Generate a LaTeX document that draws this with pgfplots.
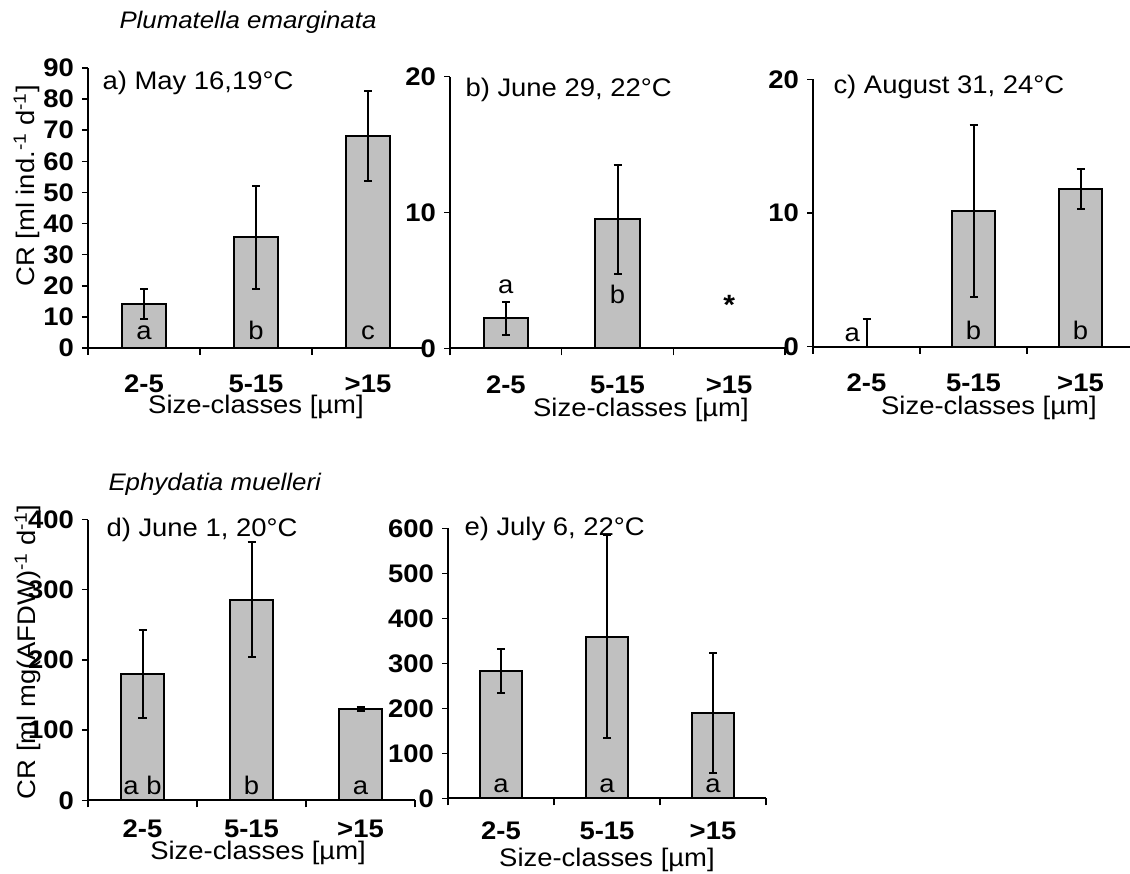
\documentclass[border=0pt]{standalone}
\usepackage{fontspec}
\setmainfont{Liberation Sans}[FakeStretch=1.08]
\usepackage{pgfplots}
\pgfplotsset{compat=1.18}

\definecolor{barfill}{RGB}{192,192,192}

\newcommand{\lblfont}{\fontsize{25.5}{30}\selectfont}
\newcommand{\spfont}{\fontsize{24}{28}\selectfont\itshape}
\newcommand{\tickfont}{\fontsize{25.5}{30}\selectfont\bfseries}

\tikzset{letter/.style={font=\lblfont, anchor=base}}

\pgfplotsset{
  sizepanel/.style={
    scale only axis,
    anchor=south west,
    xmin=0, xmax=3, ymin=0,
    axis x line*=bottom,
    axis y line*=left,
    axis line style={-, line width=1.8bp, black},
    tick align=outside,
    major tick length=6bp,
    minor tick length=7bp,
    tick style={line width=1.5bp, black},
    xtick={0.5,1.5,2.5},
    xticklabels={2-5,5-15,>15},
    minor xtick={0,1,2,3},
    major x tick style={draw=none},
    xticklabel style={font=\tickfont, anchor=base},
    yticklabel style={font=\tickfont, anchor=east, inner sep=0pt, xshift=-8bp},
    /pgf/number format/assume math mode=true,
    xlabel={Size-classes [µm]},
    xlabel style={font=\lblfont, anchor=base},
    clip=false,
    ybar, bar width=0.4,
  },
  barseries/.style={
    fill=barfill, draw=black, line width=2bp,
    error bars/.cd, y dir=both, y explicit,
    error bar style={line width=2bp, black},
    error mark options={rotate=90, mark size=4bp, line width=2bp, black},
  },
}

\begin{document}
\begin{tikzpicture}
\useasboundingbox (0,0) rectangle (1130bp,874bp);

% species headings and y labels
\node[font=\spfont, anchor=base west] at (116bp,845bp) {Plumatella emarginata};
\node[font=\spfont, anchor=base west] at (105bp,383bp) {Ephydatia muelleri};
\node[font=\lblfont, rotate=90] at (27bp,688bp) {CR [ml ind.\textsuperscript{-1} d\textsuperscript{-1}]};
\node[font=\lblfont, rotate=90] at (28bp,222bp) {CR [ml mg(AFDW)\textsuperscript{-1} d\textsuperscript{-1}]};

% a) May 16
\begin{axis}[sizepanel, at={(88bp,526bp)}, width=336bp, height=280bp,
  ymax=90, ytick={0,10,...,90},
  xticklabel style={yshift=-39bp},
  xlabel style={at={(axis description cs:0.5,0)}, yshift=-66bp}]
\addplot[barseries] coordinates {
  (0.5,14.2) +- (0,4.8)
  (1.5,35.6) +- (0,16.5)
  (2.5,68.2) +- (0,14.5)
};
\node[letter, yshift=8bp] at (axis cs:0.5,0) {a};
\node[letter, yshift=8bp] at (axis cs:1.5,0) {b};
\node[letter, yshift=8bp] at (axis cs:2.5,0) {c};
\end{axis}
\node[font=\lblfont, anchor=base west] at (99bp,784bp) {a) May 16,19°C};

% b) June 29
\begin{axis}[sizepanel, at={(450bp,525.7bp)}, width=335bp, height=271.6bp,
  ymax=20, ytick={0,10,20},
  xticklabel style={yshift=-39bp},
  xlabel style={at={(axis description cs:0.57,0)}, yshift=-68bp}]
\addplot[barseries] coordinates {
  (0.5,2.2) +- (0,1.2)
  (1.5,9.5) +- (0,4.0)
};
\node[letter] at (axis cs:0.5,4.05) {a};
\node[letter] at (axis cs:1.5,3.3) {b};
\node[font=\fontsize{28}{32}\selectfont\bfseries] at (axis cs:2.5,3.2) {*};
\end{axis}
\node[font=\lblfont, anchor=base west] at (462bp,777bp) {b) June 29, 22°C};

% c) August 31
\begin{axis}[sizepanel, at={(813bp,527.3bp)}, width=321bp, height=267.4bp,
  ymax=20, ytick={0,10,20},
  xticklabel style={yshift=-38.6bp},
  xlabel style={at={(axis description cs:0.548,0)}, yshift=-68bp}]
\addplot[barseries] coordinates {
  (0.5,0) += (0,2.1) -= (0,0)
  (1.5,10.15) +- (0,6.4)
  (2.5,11.8) +- (0,1.5)
};
\node[letter, anchor=base east, xshift=-3bp, yshift=5bp] at (axis cs:0.5,0) {a};
\node[letter, yshift=7bp] at (axis cs:1.5,0) {b};
\node[letter, yshift=7bp] at (axis cs:2.5,0) {b};
\end{axis}
\node[font=\lblfont, anchor=base west] at (830bp,780bp) {c) August 31, 24°C};

% d) June 1
\begin{axis}[sizepanel, at={(88bp,73.7bp)}, width=327bp, height=280.8bp,
  ymax=400, ytick={0,100,...,400},
  xticklabel style={yshift=-31bp},
  xlabel style={at={(axis description cs:0.52,0)}, yshift=-59bp}]
\addplot[barseries] coordinates {
  (0.5,180) +- (0,63)
  (1.5,286) +- (0,82)
  (2.5,130) +- (0,3)
};
\node[letter, yshift=6bp] at (axis cs:0.5,0) {a b};
\node[letter, yshift=6bp] at (axis cs:1.5,0) {b};
\node[letter, yshift=6bp] at (axis cs:2.5,0) {a};
\end{axis}
\node[font=\lblfont, anchor=base west] at (103bp,337bp) {d) June 1, 20°C};

% e) July 6
\begin{axis}[sizepanel, at={(448bp,75.7bp)}, width=318bp, height=270bp,
  ymax=600, ytick={0,100,...,600},
  xticklabel style={yshift=-35.5bp},
  xlabel style={at={(axis description cs:0.5,0)}, yshift=-68bp}]
\addplot[barseries] coordinates {
  (0.5,282) +- (0,49)
  (1.5,359) +- (0,226)
  (2.5,190) +- (0,134)
};
\node[letter, yshift=6bp] at (axis cs:0.5,0) {a};
\node[letter, yshift=6bp] at (axis cs:1.5,0) {a};
\node[letter, yshift=6bp] at (axis cs:2.5,0) {a};
\end{axis}
\node[font=\lblfont, anchor=base west] at (461bp,338bp) {e) July 6, 22°C};
\end{tikzpicture}
\end{document}
